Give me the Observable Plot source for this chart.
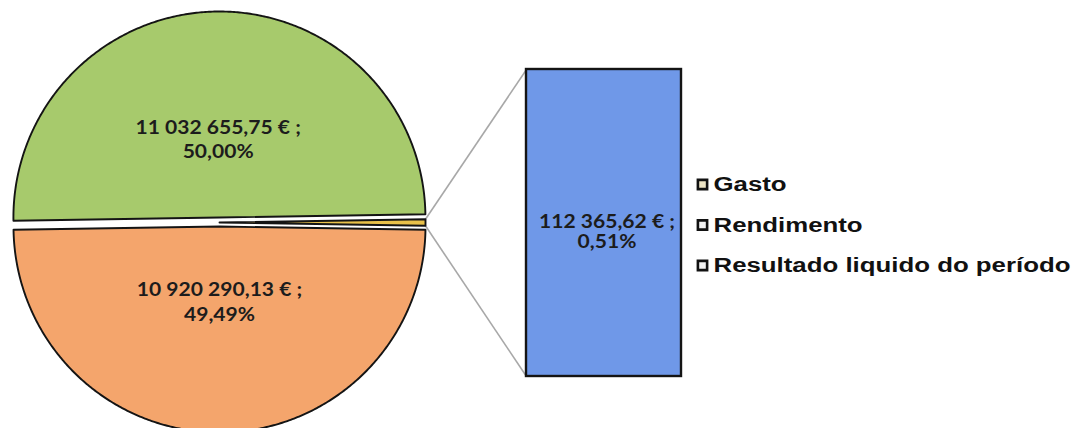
<!DOCTYPE html>
<html><head><meta charset="utf-8">
<script src="https://cdn.jsdelivr.net/npm/d3@7"></script>
<script src="https://cdn.jsdelivr.net/npm/@observablehq/plot@0.6"></script>
<style>
body{margin:0;background:#fff;}
#chart{position:relative;width:1080px;height:428px;overflow:hidden;}
</style></head><body><div id="chart"></div>
<script>
// ---- data ----
const categories = ["Gasto", "Rendimento", "Resultado liquido do período"];
const values = [10920290.13, 11032655.75, 112365.62];
const valueLabels = ["10 920 290,13 € ;", "11 032 655,75 € ;", "112 365,62 € ;"];
const percentLabels = ["49,49%", "50,00%", "0,51%"];
const legendLabels = ["Gasto", "Rendimento", "Resultado liquido do período"];
// pie arrangement (clockwise from 9 o'clock): top slice, split-off slice, bottom slice
const pieOrder = ["Rendimento", "Resultado liquido do período", "Gasto"];
const splitCategory = "Resultado liquido do período";

// ---- styles ----
const sliceColors = {"Gasto": "#f4a56c", "Rendimento": "#a7ca6c", "Resultado liquido do período": "#e9c14a"};
const explodeBy = {"Gasto": 4, "Rendimento": 5, "Resultado liquido do período": 0};
const labelRadius = {"Gasto": 0.36, "Rendimento": 0.385, "Resultado liquido do período": 0.5};
const barColor = "#6f98e8";
const legendFill = ["#ece3c4", "#f2f2f2", "#f2f2f2"];

// ---- layout ----
const W = 1080, H = 428;
const cx = 219, cy = 222, R = 206;
const barLeft = 526, barRight = 681, barTop = 69, barBottom = 376;

const rows = categories.map((c, i) => ({cat: c, value: values[i], vlabel: valueLabels[i], pct: percentLabels[i]}));
const byCat = Object.fromEntries(rows.map(r => [r.cat, r]));
const total = d3.sum(values);
const splitAngle = 2 * Math.PI * byCat[splitCategory].value / total;
const start = -Math.PI / 2 - splitAngle / 2;
const arcs = d3.pie().sort(null).value(d => d.value).startAngle(start).endAngle(start + 2 * Math.PI)(pieOrder.map(c => byCat[c]));

const pt = (ox, oy, r, a) => ({x: ox + r * Math.sin(a), y: oy - r * Math.cos(a)});
const slices = arcs.map(a => {
  const mid = (a.startAngle + a.endAngle) / 2;
  const e = explodeBy[a.data.cat];
  const ox = cx + e * Math.sin(mid), oy = cy - e * Math.cos(mid);
  const n = Math.max(4, Math.ceil((a.endAngle - a.startAngle) * 180 / Math.PI * 2));
  const pts = [{x: ox, y: oy}];
  for (let k = 0; k <= n; k++) pts.push(pt(ox, oy, R, a.startAngle + (a.endAngle - a.startAngle) * k / n));
  pts.push({x: ox, y: oy});
  const lab = pt(ox, oy, R * labelRadius[a.data.cat], mid);
  return {cat: a.data.cat, pts, ox, oy, a, label: {x: lab.x, y: lab.y, text: a.data.vlabel + "\n" + a.data.pct}};
});
const split = slices.find(s => s.cat === splitCategory);
const splitTop = pt(split.ox, split.oy, R, split.a.startAngle);
const splitBot = pt(split.ox, split.oy, R, split.a.endAngle);

const barY = d3.scaleLinear([0, byCat[splitCategory].value], [barBottom, barTop]);
const barData = [byCat[splitCategory]];
const connectors = [
  {x1: splitTop.x, y1: splitTop.y, x2: barLeft, y2: barY(byCat[splitCategory].value)},
  {x1: splitBot.x, y1: splitBot.y, x2: barLeft, y2: barY(0)}
];
const legendY = d3.scalePoint(legendLabels, [184, 265]);
const legendRows = legendLabels.map((l, i) => ({label: l, fill: legendFill[i], y: legendY(l)}));

const font = "Lato, 'Open Sans', sans-serif";
const plot = Plot.plot({
  width: W, height: H, margin: 0,
  x: {domain: [0, W], range: [0, W], axis: null},
  y: {domain: [0, H], range: [0, H], axis: null},
  style: {background: "#fff"},
  marks: [
    Plot.link(connectors, {x1: "x1", y1: "y1", x2: "x2", y2: "y2", stroke: "#a8a8a8", strokeWidth: 1.6}),
    ...slices.map(s => Plot.line(s.pts, {x: "x", y: "y", fill: sliceColors[s.cat], stroke: "#141414", strokeWidth: 1.9, strokeLinejoin: "round", curve: "linear"})),
    Plot.rect(barData, {x1: () => barLeft, x2: () => barRight, y1: () => barY(0), y2: d => barY(d.value), fill: barColor, stroke: "#141414", strokeWidth: 2.4}),
    Plot.text(slices.filter(s => s.cat !== splitCategory).map(s => s.label), {x: "x", y: "y", text: "text", fontSize: 18, fontWeight: "bold", fontFamily: font, fill: "#1c1c1c", lineHeight: 1.35, className: "stretchA"}),
    Plot.text(barData, {x: () => (barLeft + barRight) / 2 + 3, y: () => (barTop + barBottom) / 2 + 9, text: d => d.vlabel + "\n" + d.pct, fontSize: 18, fontWeight: "bold", fontFamily: font, fill: "#1c1c1c", lineHeight: 1.1, className: "stretchA"}),
    Plot.dot(legendRows, {x: () => 702, y: "y", symbol: "square", r: 5.2, fill: "fill", stroke: "#111", strokeWidth: 2.6}),
    Plot.text(legendRows, {x: () => 713, y: "y", text: "label", textAnchor: "start", fontSize: 20.5, fontWeight: "bold", fontFamily: "'Liberation Sans', Arial, sans-serif", fill: "#111", className: "stretchB"})
  ],
  color: {type: "identity"}
});
document.getElementById("chart").appendChild(plot);
// scanned original is horizontally stretched; widen the glyphs around their anchors
const stretch = (sel, k) => plot.querySelectorAll(sel).forEach(t => {
  const tr = t.getAttribute("transform");
  if (tr && tr.includes("translate")) t.setAttribute("transform", tr + ` scale(${k},1)`);
});
stretch("g.stretchA text", 1.17);
stretch("g.stretchB text", 1.26);
</script></body></html>
